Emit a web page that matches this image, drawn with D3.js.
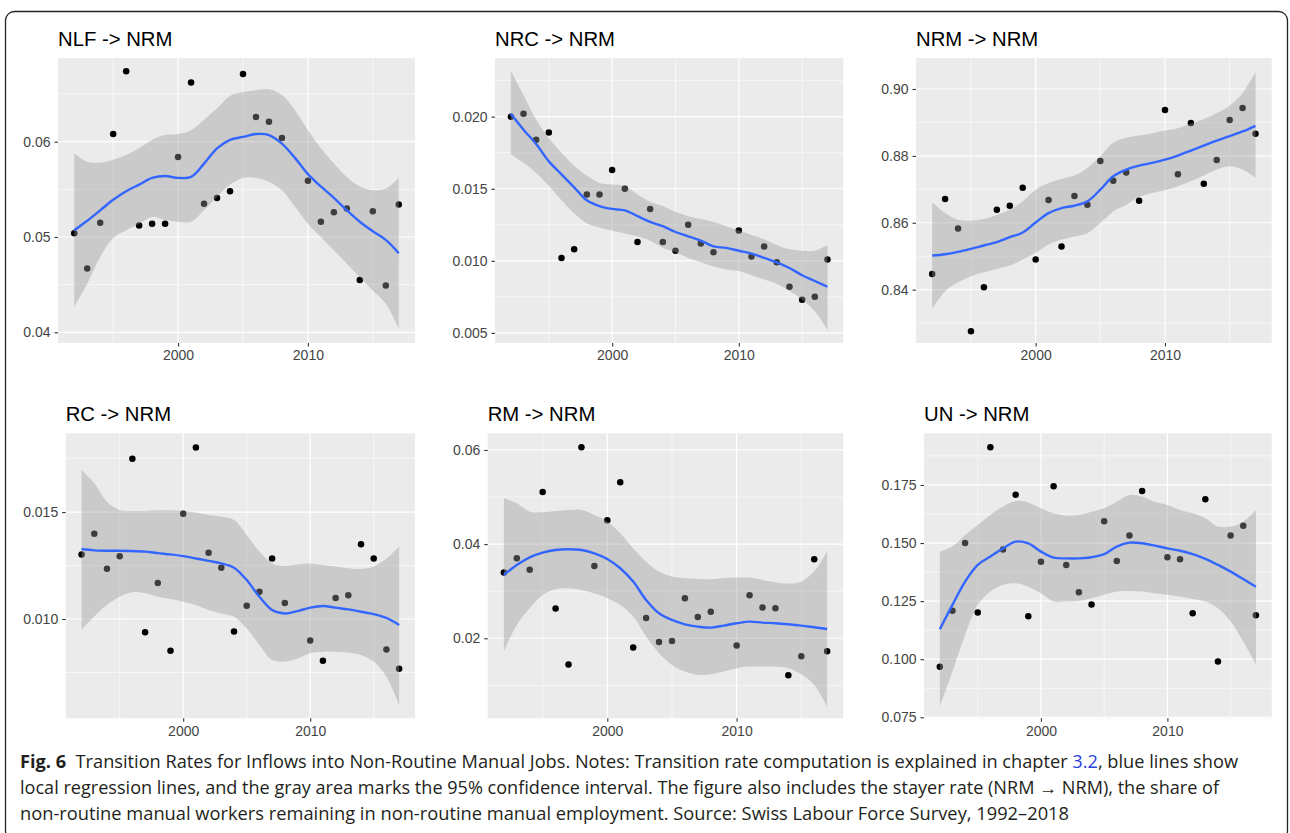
<!DOCTYPE html>
<html>
<head>
<meta charset="utf-8">
<script src="https://cdn.jsdelivr.net/npm/d3@7"></script>
<style>
  html, body { margin: 0; padding: 0; background: #ffffff; }
  svg { display: block; }
</style>
</head>
<body>
<svg id="chart" width="1290" height="833"></svg>
<script>
// ---------------- DATA ----------------
const years = [1992,1993,1994,1995,1996,1997,1998,1999,2000,2001,2002,2003,2004,2005,2006,2007,2008,2009,2010,2011,2012,2013,2014,2015,2016,2017];
const xTicks = [2000, 2010];
const xTickLabels = ["2000", "2010"];

const titles = ["NLF -> NRM", "NRC -> NRM", "NRM -> NRM", "RC -> NRM", "RM -> NRM", "UN -> NRM"];

// NLF -> NRM
const nlfPoints = [0.0504,0.0467,0.0515,0.0608,0.0674,0.0512,0.0514,0.0514,0.0584,0.0662,0.0535,0.0541,0.0548,0.0671,0.0626,0.0621,0.0604,null,0.0559,0.0516,0.0526,0.0530,0.0455,0.0527,0.0449,0.0534];
const nlfFit = [0.0507,0.0517,0.0528,0.0539,0.0548,0.0555,0.0562,0.0564,0.0562,0.0563,0.0577,0.0593,0.0602,0.0605,0.0608,0.0607,0.0598,0.0583,0.0566,0.0553,0.0541,0.0528,0.0516,0.0506,0.0497,0.0483];
const nlfLo = [0.0427,0.0451,0.0479,0.0499,0.0507,0.0514,0.0521,0.0518,0.0516,0.0516,0.0528,0.0542,0.0555,0.0562,0.0562,0.0558,0.0549,0.0532,0.0514,0.0500,0.0486,0.0472,0.0458,0.0444,0.0430,0.0404];
const nlfHi = [0.0588,0.0579,0.0578,0.0581,0.0586,0.0593,0.0602,0.0607,0.0608,0.0612,0.0623,0.0635,0.0648,0.0652,0.0654,0.0655,0.0649,0.0633,0.0612,0.0593,0.0577,0.0563,0.0553,0.0549,0.0551,0.0562];
const nlfTicks = [0.04, 0.05, 0.06];
const nlfTickLabels = ["0.04", "0.05", "0.06"];

// NRC -> NRM
const nrcPoints = [0.0200,0.0202,0.0184,0.0189,0.0102,0.0108,0.0146,0.0146,0.0163,0.0150,0.0113,0.0136,0.0113,0.0107,0.0125,0.0112,0.0106,null,0.0121,0.0103,0.0110,0.0099,0.0082,0.0073,0.0075,0.0101];
const nrcFit = [0.0202,0.0191,0.0181,0.0169,0.0160,0.0151,0.0142,0.0138,0.0136,0.0135,0.0131,0.0127,0.0124,0.0120,0.0117,0.0114,0.0110,0.0109,0.0107,0.0105,0.0102,0.0099,0.0095,0.0090,0.0086,0.0082];
const nrcLo = [0.0174,0.0168,0.0161,0.0152,0.0142,0.0133,0.0126,0.0123,0.0121,0.0119,0.0117,0.0114,0.0109,0.0106,0.0102,0.0099,0.0096,0.0094,0.0093,0.0090,0.0087,0.0084,0.0079,0.0073,0.0065,0.0052];
const nrcHi = [0.0232,0.0215,0.0198,0.0185,0.0175,0.0166,0.0159,0.0154,0.0153,0.0152,0.0146,0.0141,0.0138,0.0134,0.0131,0.0129,0.0127,0.0124,0.0121,0.0118,0.0115,0.0111,0.0108,0.0107,0.0107,0.0111];
const nrcTicks = [0.005, 0.010, 0.015, 0.020];
const nrcTickLabels = ["0.005", "0.010", "0.015", "0.020"];

// NRM -> NRM
const nrmPoints = [0.8447,0.8671,0.8583,0.8276,0.8407,0.8639,0.8651,0.8705,0.8490,0.8668,0.8529,0.8680,0.8654,0.8785,0.8726,0.8750,0.8666,null,0.8937,0.8745,0.8898,0.8717,0.8788,0.8907,0.8943,0.8866];
const nrmFit = [0.8502,0.8506,0.8513,0.8522,0.8532,0.8542,0.8557,0.8571,0.8601,0.8629,0.8644,0.8651,0.8664,0.8699,0.8739,0.8759,0.8771,0.8779,0.8789,0.8801,0.8816,0.8831,0.8846,0.8859,0.8873,0.8890];
const nrmLo = [0.8342,0.8395,0.8422,0.8440,0.8452,0.8462,0.8472,0.8490,0.8510,0.8535,0.8550,0.8559,0.8569,0.8599,0.8634,0.8654,0.8677,0.8689,0.8697,0.8709,0.8724,0.8741,0.8759,0.8769,0.8759,0.8734];
const nrmHi = [0.8661,0.8629,0.8609,0.8606,0.8611,0.8624,0.8639,0.8664,0.8699,0.8719,0.8731,0.8741,0.8764,0.8799,0.8839,0.8854,0.8861,0.8868,0.8876,0.8883,0.8896,0.8910,0.8928,0.8950,0.8988,0.9050];
const nrmTicks = [0.84, 0.86, 0.88, 0.90];
const nrmTickLabels = ["0.84", "0.86", "0.88", "0.90"];

// RC -> NRM
const rcPoints = [0.01301,0.01399,0.01235,0.01293,0.01749,0.00938,0.01168,0.00852,0.01492,0.01802,0.01310,0.01240,0.00942,0.01062,0.01128,0.01283,0.01075,null,0.00900,0.00805,0.01098,0.01111,0.01349,0.01283,0.00857,0.00768];
const rcFit = [0.01327,0.01321,0.01319,0.01319,0.01318,0.01315,0.01308,0.01302,0.01294,0.01283,0.01272,0.01260,0.01240,0.01182,0.01104,0.01042,0.01026,0.01037,0.01053,0.01061,0.01053,0.01045,0.01034,0.01023,0.01005,0.00972];
const rcLo = [0.00949,0.01012,0.01065,0.01104,0.01125,0.01120,0.01104,0.01093,0.01081,0.01065,0.01042,0.01026,0.01011,0.00956,0.00879,0.00808,0.00801,0.00816,0.00840,0.00847,0.00847,0.00844,0.00832,0.00801,0.00730,0.00598];
const rcHi = [0.01696,0.01634,0.01548,0.01509,0.01505,0.01505,0.01508,0.01508,0.01505,0.01498,0.01486,0.01478,0.01463,0.01393,0.01315,0.01260,0.01249,0.01255,0.01260,0.01252,0.01245,0.01237,0.01234,0.01245,0.01283,0.01338];
const rcTicks = [0.010, 0.015];
const rcTickLabels = ["0.010", "0.015"];

// RM -> NRM
const rmPoints = [0.03395,0.03699,0.03458,0.05108,0.02630,0.01441,0.06057,0.03536,0.04506,0.05313,0.01802,0.02432,0.01922,0.01943,0.02850,0.02453,0.02566,null,0.01844,0.02913,0.02651,0.02637,0.01214,0.01618,0.03678,0.01724];
const rmFit = [0.03345,0.03558,0.03720,0.03819,0.03876,0.03890,0.03876,0.03805,0.03685,0.03487,0.03204,0.02814,0.02531,0.02389,0.02297,0.02248,0.02227,0.02269,0.02319,0.02354,0.02333,0.02319,0.02297,0.02269,0.02234,0.02198];
const rmLo = [0.01717,0.02283,0.02637,0.02920,0.03041,0.03062,0.03027,0.02956,0.02850,0.02708,0.02460,0.02035,0.01681,0.01434,0.01292,0.01221,0.01235,0.01292,0.01363,0.01398,0.01398,0.01398,0.01363,0.01235,0.01009,0.00549];
const rmHi = [0.04973,0.04867,0.04690,0.04676,0.04704,0.04726,0.04726,0.04620,0.04478,0.04230,0.03912,0.03628,0.03416,0.03310,0.03274,0.03260,0.03253,0.03274,0.03289,0.03289,0.03239,0.03189,0.03161,0.03204,0.03416,0.03841];
const rmTicks = [0.02, 0.04, 0.06];
const rmTickLabels = ["0.02", "0.04", "0.06"];

// UN -> NRM
const unPoints = [0.0968,0.1209,0.1500,0.1201,0.1912,0.1472,0.1708,0.1185,0.1419,0.1744,0.1406,0.1288,0.1235,0.1594,0.1423,0.1532,0.1724,null,0.1439,0.1430,0.1198,0.1688,0.0990,0.1533,0.1574,0.1189];
const unFit = [0.1129,0.1234,0.1334,0.1406,0.1442,0.1477,0.1506,0.1499,0.1463,0.1437,0.1434,0.1434,0.1439,0.1452,0.1485,0.1502,0.1499,0.1489,0.1477,0.1467,0.1452,0.1432,0.1406,0.1377,0.1345,0.1312];
const unLo = [0.0796,0.0947,0.1104,0.1234,0.1291,0.1320,0.1327,0.1312,0.1284,0.1248,0.1248,0.1251,0.1262,0.1277,0.1291,0.1294,0.1291,0.1284,0.1277,0.1269,0.1259,0.1248,0.1219,0.1162,0.1076,0.0978];
const unHi = [0.1463,0.1485,0.1535,0.1578,0.1621,0.1657,0.1681,0.1675,0.1650,0.1628,0.1618,0.1621,0.1635,0.1650,0.1678,0.1707,0.1700,0.1678,0.1664,0.1642,0.1628,0.1607,0.1571,0.1571,0.1592,0.1642];
const unTicks = [0.075, 0.100, 0.125, 0.150, 0.175];
const unTickLabels = ["0.075", "0.100", "0.125", "0.150", "0.175"];

// Caption
const captionBold = "Fig. 6";
const captionLine1a = "  Transition Rates for Inflows into Non-Routine Manual Jobs. Notes: Transition rate computation is explained in chapter ";
const captionLink = "3.2";
const captionLine1b = ", blue lines show";
const captionLine2 = "local regression lines, and the gray area marks the 95% confidence interval. The figure also includes the stayer rate (NRM \u2192 NRM), the share of";
const captionLine3 = "non-routine manual workers remaining in non-routine manual employment. Source: Swiss Labour Force Survey, 1992\u20132018";

// ---------------- LAYOUT ----------------
const panelSeries = [
  {pts: nlfPoints, fit: nlfFit, lo: nlfLo, hi: nlfHi, ticks: nlfTicks, labels: nlfTickLabels, yDomain: [0.03888, 0.06878]},
  {pts: nrcPoints, fit: nrcFit, lo: nrcLo, hi: nrcHi, ticks: nrcTicks, labels: nrcTickLabels, yDomain: [0.0043, 0.02407]},
  {pts: nrmPoints, fit: nrmFit, lo: nrmLo, hi: nrmHi, ticks: nrmTicks, labels: nrmTickLabels, yDomain: [0.82405, 0.90927]},
  {pts: rcPoints, fit: rcFit, lo: rcLo, hi: rcHi, ticks: rcTicks, labels: rcTickLabels, yDomain: [0.00536, 0.01868]},
  {pts: rmPoints, fit: rmFit, lo: rmLo, hi: rmHi, ticks: rmTicks, labels: rmTickLabels, yDomain: [0.0030, 0.06354]},
  {pts: unPoints, fit: unFit, lo: unLo, hi: unHi, ticks: unTicks, labels: unTickLabels, yDomain: [0.07457, 0.19724]}
];
const panelRects = [
  {x0: 58, x1: 415, y0: 58, y1: 343},
  {x0: 495, x1: 843.3, y0: 58, y1: 343},
  {x0: 916, x1: 1271.7, y0: 58, y1: 343},
  {x0: 65.7, x1: 415, y0: 433.3, y1: 718.3},
  {x0: 487.7, x1: 843.3, y0: 433.3, y1: 718.3},
  {x0: 924, x1: 1271.7, y0: 433.3, y1: 718.3}
];
const xDomain = [1990.75, 2018.25];

const svg = d3.select("#chart");

// outer frame
svg.append("rect")
  .attr("x", 5.5).attr("y", 11.5)
  .attr("width", 1282).attr("height", 828)
  .attr("rx", 9).attr("ry", 9)
  .attr("fill", "none").attr("stroke", "#222").attr("stroke-width", 1.3);

const tickFont = "'Liberation Sans', Arial, Helvetica, sans-serif";

panelSeries.forEach((p, i) => {
  const r = panelRects[i];
  const x = d3.scaleLinear().domain(xDomain).range([r.x0, r.x1]);
  const y = d3.scaleLinear().domain(p.yDomain).range([r.y1, r.y0]);
  const g = svg.append("g");

  // background
  g.append("rect").attr("x", r.x0).attr("y", r.y0)
    .attr("width", r.x1 - r.x0).attr("height", r.y1 - r.y0)
    .attr("fill", "#EBEBEB");

  // minor grid
  const xStep = xTicks[1] - xTicks[0];
  const xMinor = [xTicks[0] - xStep / 2].concat(xTicks.map(t => t + xStep / 2))
    .filter(v => v > xDomain[0] && v < xDomain[1]);
  const yStep = p.ticks[1] - p.ticks[0];
  const yMinor = [p.ticks[0] - yStep / 2].concat(p.ticks.map(t => t + yStep / 2))
    .filter(v => v > p.yDomain[0] && v < p.yDomain[1]);

  g.selectAll(".xminor").data(xMinor).join("line")
    .attr("x1", d => x(d)).attr("x2", d => x(d))
    .attr("y1", r.y0).attr("y2", r.y1)
    .attr("stroke", "#fff").attr("stroke-width", 0.6);
  g.selectAll(".yminor").data(yMinor).join("line")
    .attr("y1", d => y(d)).attr("y2", d => y(d))
    .attr("x1", r.x0).attr("x2", r.x1)
    .attr("stroke", "#fff").attr("stroke-width", 0.6);

  // major grid
  g.selectAll(".xmajor").data(xTicks).join("line")
    .attr("x1", d => x(d)).attr("x2", d => x(d))
    .attr("y1", r.y0).attr("y2", r.y1)
    .attr("stroke", "#fff").attr("stroke-width", 1.2);
  g.selectAll(".ymajor").data(p.ticks).join("line")
    .attr("y1", d => y(d)).attr("y2", d => y(d))
    .attr("x1", r.x0).attr("x2", r.x1)
    .attr("stroke", "#fff").attr("stroke-width", 1.2);

  // points
  const pts = years.map((yr, k) => ({yr, v: p.pts[k]})).filter(d => d.v !== null);
  g.selectAll(".pt").data(pts).join("circle")
    .attr("cx", d => x(d.yr)).attr("cy", d => y(d.v))
    .attr("r", 3.25).attr("fill", "#000");

  // ribbon
  const band = years.map((yr, k) => ({yr, lo: p.lo[k], hi: p.hi[k], fit: p.fit[k]}));
  const curve = d3.curveCatmullRom.alpha(0.5);
  g.append("path").datum(band)
    .attr("d", d3.area().x(d => x(d.yr)).y0(d => y(d.lo)).y1(d => y(d.hi)).curve(curve))
    .attr("fill", "#999999").attr("fill-opacity", 0.4);

  // smooth line
  g.append("path").datum(band)
    .attr("d", d3.line().x(d => x(d.yr)).y(d => y(d.fit)).curve(curve))
    .attr("fill", "none").attr("stroke", "#3366FF").attr("stroke-width", 2.4);

  // y axis ticks
  const yAxis = d3.axisLeft(y).tickValues(p.ticks).tickSize(3.5).tickPadding(4)
    .tickFormat((d, k) => p.labels[k]);
  const ya = g.append("g").attr("transform", `translate(${r.x0},0)`).call(yAxis);
  ya.select(".domain").remove();
  ya.selectAll(".tick line").attr("stroke", "#333").attr("stroke-width", 1.1);
  ya.selectAll(".tick text").attr("fill", "#444")
    .style("font-family", tickFont).style("font-size", "14px");

  // x axis ticks
  const xAxis = d3.axisBottom(x).tickValues(xTicks).tickSize(3.5).tickPadding(4)
    .tickFormat((d, k) => xTickLabels[k]);
  const xa = g.append("g").attr("transform", `translate(0,${r.y1})`).call(xAxis);
  xa.select(".domain").remove();
  xa.selectAll(".tick line").attr("stroke", "#333").attr("stroke-width", 1.1);
  xa.selectAll(".tick text").attr("fill", "#444")
    .style("font-family", tickFont).style("font-size", "14px");

  // title
  g.append("text").attr("x", r.x0).attr("y", r.y0 - 12)
    .attr("fill", "#000")
    .style("font-family", tickFont).style("font-size", "20.3px")
    .text(titles[i]);
});

// caption
const capFont = "'Open Sans', 'Noto Sans', sans-serif";
const cap1 = svg.append("text").attr("x", 20).attr("y", 768)
  .attr("textLength", 1218).attr("lengthAdjust", "spacingAndGlyphs")
  .style("font-family", capFont).style("font-size", "17.5px").attr("fill", "#231f20")
  .attr("xml:space", "preserve");
cap1.append("tspan").attr("font-weight", "bold").text(captionBold);
cap1.append("tspan").text(captionLine1a);
cap1.append("tspan").attr("fill", "#2a3fd8").text(captionLink);
cap1.append("tspan").text(captionLine1b);

svg.append("text").attr("x", 20).attr("y", 794)
  .attr("textLength", 1199).attr("lengthAdjust", "spacingAndGlyphs")
  .style("font-family", capFont).style("font-size", "17.5px").attr("fill", "#231f20")
  .text(captionLine2);

svg.append("text").attr("x", 20).attr("y", 820)
  .attr("textLength", 1049).attr("lengthAdjust", "spacingAndGlyphs")
  .style("font-family", capFont).style("font-size", "17.5px").attr("fill", "#231f20")
  .text(captionLine3);
</script>
</body>
</html>
